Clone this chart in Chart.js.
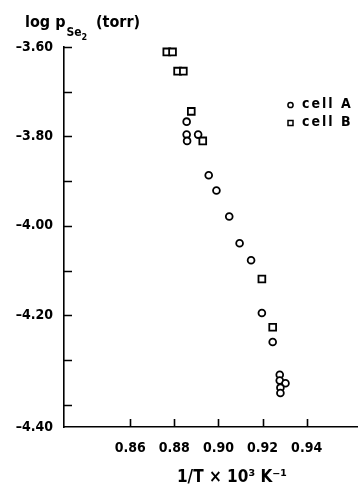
<!DOCTYPE html>
<html lang="en">
<head>
    <meta charset="UTF-8">
    <title>log pSe2 vs 1/T</title>
    <style>
        html, body { margin: 0; padding: 0; background: #fff; }
        #wrap { width: 364px; height: 485px; }
    </style>
</head>
<body>
    <div id="wrap">
        <canvas id="myChart" width="364" height="485"></canvas>
    </div>
</body>
<script src="https://cdn.jsdelivr.net/npm/chart.js@4.4.0/dist/chart.umd.min.js"></script>
<script>
    // data
    var cellAX = [0.8856, 0.8856, 0.8858, 0.8908, 0.8956, 0.8991, 0.9049, 0.9096, 0.9148, 0.9197, 0.9246, 0.9278, 0.9278, 0.9304, 0.9281, 0.9281];
    var cellAY = [-3.767, -3.796, -3.810, -3.796, -3.887, -3.921, -3.979, -4.039, -4.077, -4.195, -4.260, -4.333, -4.346, -4.352, -4.362, -4.374];
    var cellBX = [0.8766, 0.8792, 0.8815, 0.8841, 0.8877, 0.8929, 0.9197, 0.9246];
    var cellBY = [-3.611, -3.611, -3.654, -3.654, -3.744, -3.810, -4.119, -4.227];

    var xTicks = [0.86, 0.88, 0.90, 0.92, 0.94];
    var xTickLabels = ["0.86", "0.88", "0.90", "0.92", "0.94"];
    var yTicks = [-3.60, -3.80, -4.00, -4.20, -4.45];
    var yTickLabels = ["\u20133.60", "\u20133.80", "\u20134.00", "\u20134.20", "\u20134.40"];
    var yMinor = [-3.60, -3.70, -3.80, -3.90, -4.00, -4.10, -4.20, -4.30, -4.40];

    var FONT = "'DejaVu Sans Condensed', 'DejaVu Sans', sans-serif";

    function toPoints(xs, ys) {
        return xs.map(function (x, i) { return { x: x, y: ys[i] }; });
    }

    // inward tick marks, titles and legend
    var decor = {
        id: 'decor',
        afterDraw: function (chart) {
            var ctx = chart.ctx;
            var xs = chart.scales.x, ys = chart.scales.y;
            var left = chart.chartArea.left, bottom = chart.chartArea.bottom;
            ctx.save();
            ctx.strokeStyle = '#000';
            ctx.lineWidth = 1.6;
            ctx.beginPath();
            yMinor.forEach(function (v) {
                var p = Math.round(ys.getPixelForValue(v)) + 0.5;
                ctx.moveTo(left, p);
                ctx.lineTo(left + 8, p);
            });
            xTicks.forEach(function (v) {
                var p = Math.round(xs.getPixelForValue(v)) + 0.5;
                ctx.moveTo(p, bottom);
                ctx.lineTo(p, bottom - 8);
            });
            ctx.stroke();

            // y title
            ctx.fillStyle = '#000';
            ctx.textBaseline = 'alphabetic';
            ctx.textAlign = 'left';
            ctx.font = "bold 16px " + FONT;
            ctx.fillText('log p', 25, 27);
            var w = ctx.measureText('log p').width;
            ctx.font = "bold 12px " + FONT;
            ctx.fillText('Se', 26 + w, 36);
            var w2 = ctx.measureText('Se').width;
            ctx.font = "bold 9px " + FONT;
            ctx.fillText('2', 26 + w + w2, 40);
            ctx.font = "bold 16px " + FONT;
            ctx.fillText('(torr)', 96, 27);

            // x title
            ctx.textAlign = 'center';
            ctx.font = "bold 17px " + FONT;
            ctx.fillText('1/T \u00d7 10\u00b3 K\u207b\u00b9', 232, 482);

            // legend
            ctx.textAlign = 'left';
            ctx.textBaseline = 'middle';
            ctx.font = "bold 14px " + FONT;
            ctx.letterSpacing = '2px';
            ctx.lineWidth = 1.5;
            ctx.beginPath();
            ctx.arc(290.5, 105, 2.6, 0, Math.PI * 2);
            ctx.stroke();
            ctx.strokeRect(288, 120.5, 5, 5);
            ctx.fillText(chart.data.datasets[0].label, 302, 104);
            ctx.fillText(chart.data.datasets[1].label, 302, 122.5);
            ctx.restore();
        }
    };

    var ctx = document.getElementById('myChart').getContext('2d');
    var myChart = new Chart(ctx, {
        type: 'scatter',
        data: {
            datasets: [{
                label: 'cell A',
                data: toPoints(cellAX, cellAY),
                pointStyle: 'circle',
                pointRadius: 3.4,
                borderWidth: 1.8,
                borderColor: '#000',
                backgroundColor: '#fff',
                clip: false
            }, {
                label: 'cell B',
                data: toPoints(cellBX, cellBY),
                pointStyle: 'rect',
                pointRadius: 4.8,
                borderWidth: 1.8,
                borderColor: '#000',
                backgroundColor: '#fff',
                clip: false
            }]
        },
        options: {
            responsive: false,
            animation: false,
            layout: { padding: { top: 47, right: 0, left: 0, bottom: 0 } },
            plugins: {
                legend: { display: false },
                tooltip: { enabled: false }
            },
            scales: {
                x: {
                    type: 'linear',
                    min: 0.83,
                    max: 0.963,
                    grid: { display: false, drawTicks: false },
                    border: { display: true, color: '#000', width: 1.6 },
                    afterBuildTicks: function (scale) {
                        scale.ticks = xTicks.map(function (v) { return { value: v }; });
                    },
                    afterFit: function (scale) { scale.height = 58; },
                    ticks: {
                        color: '#000',
                        padding: 13,
                        maxRotation: 0,
                        font: { family: FONT, size: 14, weight: 'bold' },
                        callback: function (v) {
                            var i = xTicks.findIndex(function (t) { return Math.abs(t - v) < 1e-6; });
                            return i >= 0 ? xTickLabels[i] : '';
                        }
                    }
                },
                y: {
                    type: 'linear',
                    min: -4.45,
                    max: -3.60,
                    grid: { display: false, drawTicks: false },
                    border: { display: true, color: '#000', width: 1.6 },
                    afterBuildTicks: function (scale) {
                        scale.ticks = yTicks.map(function (v) { return { value: v }; });
                    },
                    afterFit: function (scale) { scale.width = 64; },
                    ticks: {
                        color: '#000',
                        padding: 11,
                        font: { family: FONT, size: 14, weight: 'bold' },
                        callback: function (v) {
                            var i = yTicks.findIndex(function (t) { return Math.abs(t - v) < 1e-6; });
                            return i >= 0 ? yTickLabels[i] : '';
                        }
                    }
                }
            }
        },
        plugins: [decor]
    });
</script>
</html>
